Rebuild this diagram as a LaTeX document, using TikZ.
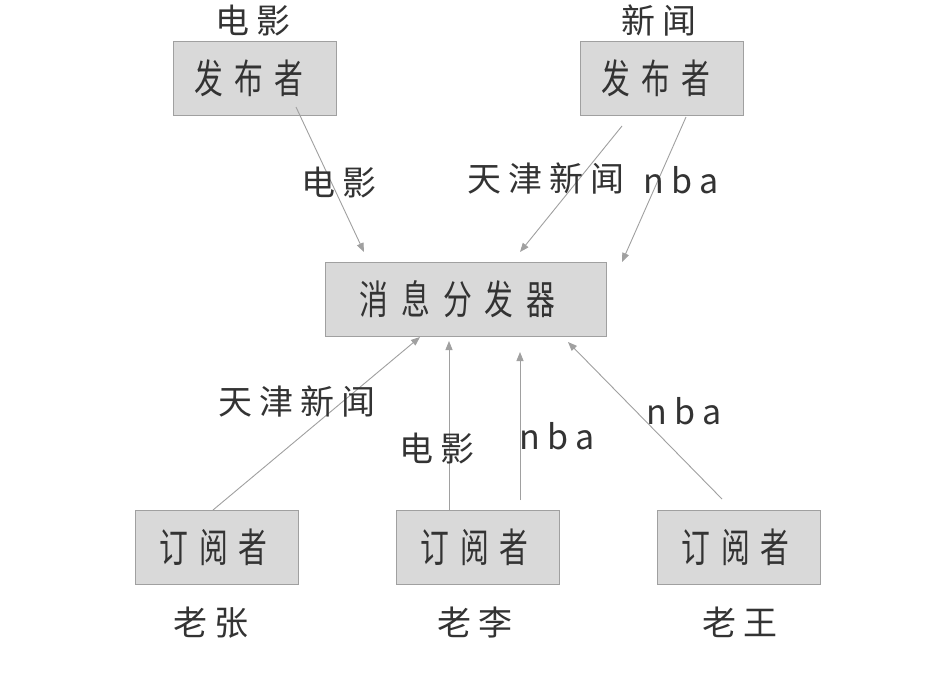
\documentclass[tikz,border=0pt]{standalone}
\usepackage{fontspec}
\setmainfont{Noto Sans CJK SC}
\newfontfamily\boxfont[FakeStretch=0.72]{Noto Sans CJK SC}
\usetikzlibrary{arrows.meta}
\definecolor{txt}{HTML}{333333}
\definecolor{boxfill}{HTML}{D9D9D9}
\definecolor{boxline}{HTML}{A0A0A0}
\definecolor{arr}{HTML}{A0A0A0}
\makeatletter
\newcommand\spaced[2]{\begingroup\let\sp@first\relax\@tfor\sp@c:=#2\do{\ifx\sp@first\relax\else\kern#1\fi\sp@c\let\sp@first\empty}\endgroup}
\makeatother
\tikzset{
  box/.style={draw=boxline, fill=boxfill, line width=0.9pt, minimum width=163pt,
    minimum height=74pt, inner sep=0pt, font=\boxfont\fontsize{40}{40}\selectfont, text=txt},
  lbl/.style={font=\fontsize{34}{34}\selectfont, text=txt, inner sep=0pt, anchor=base},
  link/.style={draw=arr, line width=0.9pt, -{Triangle[length=9pt,width=7pt]}}
}
\begin{document}
\begin{tikzpicture}[x=1pt,y=-1pt]
\useasboundingbox[fill=white] (0,0) rectangle (931,673);
% boxes
\node[box] (pub1) at (254.5,78) {\spaced{11pt}{发布者}\kern11pt};
\node[box] (pub2) at (661.5,78) {\spaced{11pt}{发布者}\kern11pt};
\node[box, minimum width=281pt] (disp) at (465.5,299) {\spaced{13pt}{消息分发器}\kern16pt};
\node[box] (sub1) at (216.5,547) {\spaced{11pt}{订阅者}\kern6pt};
\node[box] (sub2) at (477.5,547) {\spaced{11pt}{订阅者}\kern6pt};
\node[box] (sub3) at (738.5,547) {\spaced{11pt}{订阅者}\kern6pt};
% titles
\node[lbl] (t1) at (253,33) {\spaced{7pt}{电影}};
\node[lbl] (t2) at (659,33) {\spaced{7pt}{新闻}};
\node[lbl] (n1) at (211,635) {\spaced{7pt}{老张}};
\node[lbl] (n2) at (475,635) {\spaced{7pt}{老李}};
\node[lbl] (n3) at (740,635) {\spaced{7pt}{老王}};
% arrow end points
\coordinate (a1s) at (296,107);  \coordinate (a1e) at (364,252);
\coordinate (a2s) at (622,126);  \coordinate (a2e) at (520,252);
\coordinate (a3s) at (686,117);  \coordinate (a3e) at (622,262);
\coordinate (a4s) at (213,510);  \coordinate (a4e) at (420,337);
\coordinate (a5s) at (449,510);  \coordinate (a5e) at (449,341);
\coordinate (a6s) at (520,500);  \coordinate (a6e) at (520,352);
\coordinate (a7s) at (722,499);  \coordinate (a7e) at (568,342);
\draw[link] (a1s) -- (a1e);
\draw[link] (a2s) -- (a2e);
\draw[link] (a3s) -- (a3e);
\draw[link] (a4s) -- (a4e);
\draw[link] (a5s) -- (a5e);
\draw[link] (a6s) -- (a6e);
\draw[link] (a7s) -- (a7e);
% edge labels
\node[lbl] (l1) at (339,195) {\spaced{7pt}{电影}};
\node[lbl] (l2) at (546,191) {\spaced{7pt}{天津新闻}};
\node[lbl] (l3) at (681,193) {\spaced{7pt}{nba}};
\node[lbl] (l4) at (297,414) {\spaced{7pt}{天津新闻}};
\node[lbl] (l5) at (437,461) {\spaced{7pt}{电影}};
\node[lbl] (l6) at (557,449) {\spaced{7pt}{nba}};
\node[lbl] (l7) at (684,424) {\spaced{7pt}{nba}};
\end{tikzpicture}
\end{document}
